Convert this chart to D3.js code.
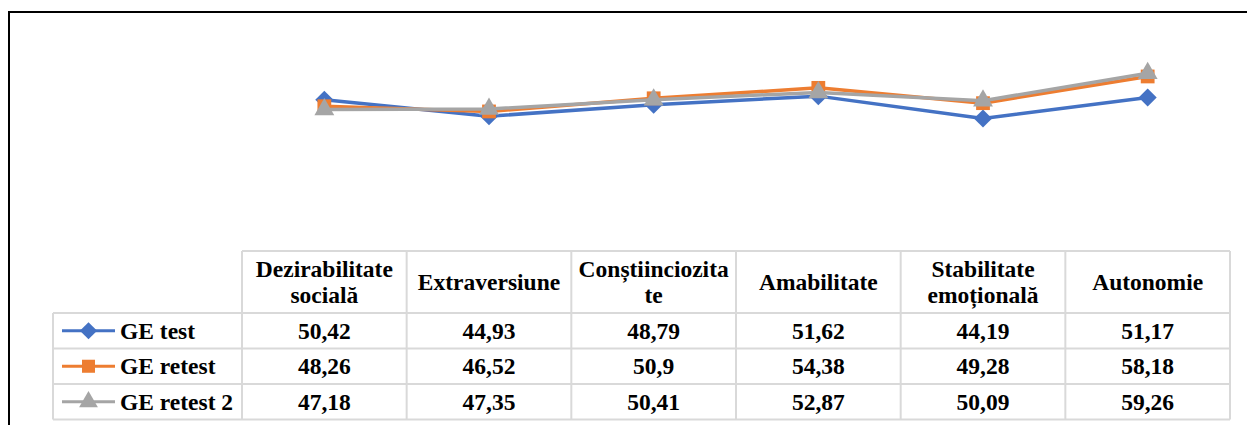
<!DOCTYPE html>
<html>
<head>
<meta charset="utf-8">
<script src="https://cdn.jsdelivr.net/npm/d3@7"></script>
<style>
  body { margin: 0; background: #fff; }
  svg { display: block; }
</style>
</head>
<body>
<svg width="1247" height="425"></svg>
<script>
// chart data
const categories = ["Dezirabilitate socială", "Extraversiune", "Conștiinciozitate", "Amabilitate", "Stabilitate emoțională", "Autonomie"];
const headerLines = [["Dezirabilitate", "socială"], ["Extraversiune"], ["Conștiinciozita", "te"], ["Amabilitate"], ["Stabilitate", "emoțională"], ["Autonomie"]];
const seriesNames = ["GE test", "GE retest", "GE retest 2"];
const geTest = [50.42, 44.93, 48.79, 51.62, 44.19, 51.17];
const geRetest = [48.26, 46.52, 50.9, 54.38, 49.28, 58.18];
const geRetest2 = [47.18, 47.35, 50.41, 52.87, 50.09, 59.26];

const colors = ["#4472C4", "#ED7D31", "#A5A5A5"];
const markers = ["diamond", "square", "triangle"];
const series = [geTest, geRetest, geRetest2].map((values, i) => ({
  name: seriesNames[i],
  values,
  color: colors[i],
  marker: markers[i]
}));

const svg = d3.select("svg");
const fontFamily = "Liberation Serif";
const fontSize = 23.5;
const gridColor = "#d9d9d9";

// outer frame (top + left edges visible)
svg.append("path")
  .attr("d", "M9,425V12H1247")
  .attr("fill", "none")
  .attr("stroke", "#000")
  .attr("stroke-width", 2);

// scales
const x = d3.scaleBand().domain(categories).range([242, 1230]);
const cx = (c) => x(c) + x.bandwidth() / 2;
const y = d3.scaleLinear().domain([0, 80]).range([251, 11]);

// table geometry
const legendLeft = 53;
const headerTop = 251;
const headerBottom = 313;
const rowH = 35.5;
const rowY = (i) => headerBottom + i * rowH;
const tableBottom = rowY(series.length);

const grid = svg.append("g")
  .attr("stroke", gridColor)
  .attr("stroke-width", 2)
  .attr("fill", "none");

// horizontal lines
grid.append("line").attr("x1", x.range()[0]).attr("x2", x.range()[1]).attr("y1", headerTop).attr("y2", headerTop);
d3.range(series.length + 1).forEach((i) => {
  grid.append("line").attr("x1", legendLeft).attr("x2", x.range()[1]).attr("y1", rowY(i)).attr("y2", rowY(i));
});
// vertical lines
grid.append("line").attr("x1", legendLeft).attr("x2", legendLeft).attr("y1", headerBottom).attr("y2", tableBottom);
categories.forEach((c) => {
  grid.append("line").attr("x1", x(c)).attr("x2", x(c)).attr("y1", headerTop).attr("y2", tableBottom);
});
grid.append("line").attr("x1", x.range()[1]).attr("x2", x.range()[1]).attr("y1", headerTop).attr("y2", tableBottom);

const addText = (sel) => sel
  .attr("font-family", fontFamily)
  .attr("font-weight", "bold")
  .attr("font-size", fontSize)
  .attr("fill", "#000");

// header labels
const headerMid = (headerTop + headerBottom) / 2;
const lineGap = 26;
categories.forEach((c, i) => {
  const lines = headerLines[i];
  const t = svg.append("text")
    .attr("text-anchor", "middle")
    .attr("x", cx(c))
    .call(addText);
  lines.forEach((l, j) => {
    t.append("tspan")
      .attr("x", cx(c))
      .attr("y", headerMid + 8 + (j - (lines.length - 1) / 2) * lineGap)
      .text(l);
  });
});

// marker shapes
const symbolFor = (m, size) => {
  if (m === "diamond") return d3.symbol().type(d3.symbolDiamond2).size(size * 1.1)();
  if (m === "square") return d3.symbol().type(d3.symbolSquare).size(size)();
  return d3.symbol().type(d3.symbolTriangle).size(size * 0.9)();
};

const fmt = (v) => String(v).replace(".", ",");

// rows: legend keys + values
series.forEach((s, i) => {
  const mid = rowY(i) + rowH / 2;
  const key = svg.append("g").attr("transform", `translate(0,${mid})`);
  key.append("line")
    .attr("x1", 62).attr("x2", 115)
    .attr("stroke", s.color)
    .attr("stroke-width", 3);
  key.append("path")
    .attr("transform", "translate(88.5,0)")
    .attr("d", symbolFor(s.marker, 170))
    .attr("fill", s.color);
  svg.append("text")
    .attr("x", 120)
    .attr("y", mid + 8)
    .call(addText)
    .text(s.name);

  svg.selectAll(null)
    .data(s.values)
    .enter()
    .append("text")
    .attr("text-anchor", "middle")
    .attr("x", (d, j) => cx(categories[j]))
    .attr("y", mid + 8)
    .call(addText)
    .text(fmt);
});

// lines + markers
const line = d3.line()
  .x((d, j) => cx(categories[j]))
  .y((d) => y(d));

series.forEach((s) => {
  const g = svg.append("g");
  g.append("path")
    .datum(s.values)
    .attr("d", line)
    .attr("fill", "none")
    .attr("stroke", s.color)
    .attr("stroke-width", 3.5)
    .attr("stroke-linejoin", "round");
  g.selectAll("path.pt")
    .data(s.values)
    .enter()
    .append("path")
    .attr("class", "pt")
    .attr("transform", (d, j) => `translate(${cx(categories[j])},${y(d)})`)
    .attr("d", symbolFor(s.marker, 190))
    .attr("fill", s.color);
});
</script>
</body>
</html>
